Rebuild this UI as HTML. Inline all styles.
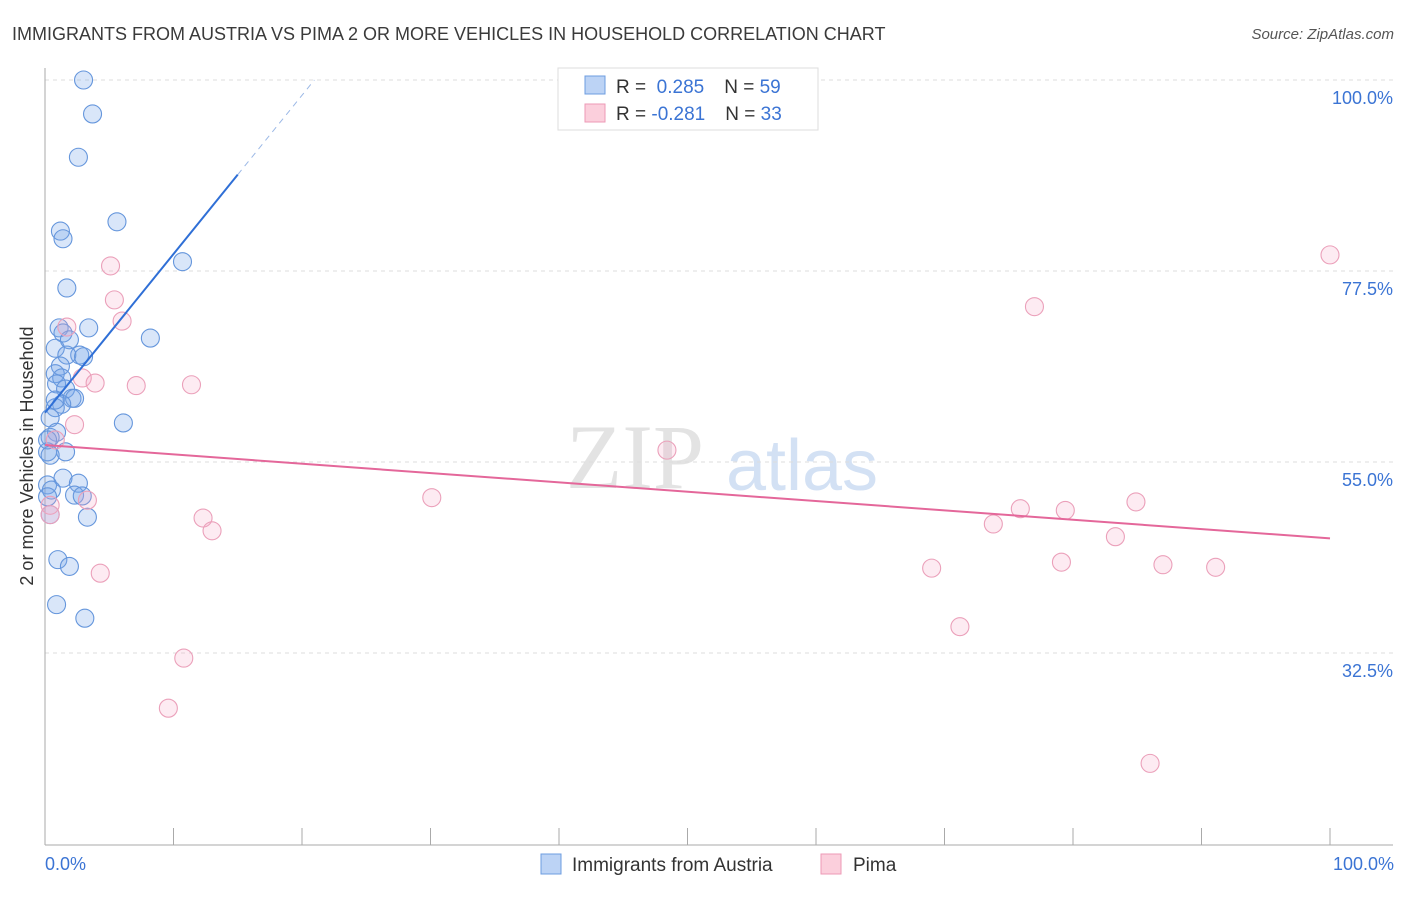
<!DOCTYPE html>
<html><head><meta charset="utf-8"><style>
body{margin:0;background:#fff;font-family:"Liberation Sans",sans-serif}
</style></head><body>
<svg id="chart" width="1406" height="892" xmlns="http://www.w3.org/2000/svg" font-family="Liberation Sans, sans-serif">
<text x="12" y="40" font-size="18" fill="#3a3a3a">IMMIGRANTS FROM AUSTRIA VS PIMA 2 OR MORE VEHICLES IN HOUSEHOLD CORRELATION CHART</text>
<text x="1394" y="39" font-size="15" fill="#555" font-style="italic" text-anchor="end">Source: ZipAtlas.com</text>
<g>
<text x="635" y="488" font-size="92" fill="#ddd" font-family="Liberation Serif, serif" text-anchor="middle" opacity="0.8">ZIP</text>
<text x="802" y="490" font-size="72" fill="#c9daf2" text-anchor="middle" opacity="0.8">atlas</text>
</g>
<g id="grid"></g><g id="axes"></g><g id="marks"></g>
<text transform="translate(33,456) rotate(-90)" font-size="18" fill="#333" text-anchor="middle">2 or more Vehicles in Household</text>
<text x="45" y="870" font-size="18" fill="#3b74d4">0.0%</text>
<text x="1394" y="870" font-size="18" fill="#3b74d4" text-anchor="end">100.0%</text>
<g>
<rect x="558" y="68" width="260" height="62" fill="#fff" stroke="#ddd"/>
<rect x="585" y="76" width="20" height="18" fill="#bcd3f5" stroke="#6d9de0"/>
<rect x="585" y="104" width="20" height="18" fill="#fbcfdc" stroke="#ec9ab6"/>
<text x="616" y="93" font-size="19" fill="#333">R = <tspan fill="#3b74d4">&#160;0.285</tspan><tspan dx="20">N = </tspan><tspan fill="#3b74d4">59</tspan></text>
<text x="616" y="120" font-size="19" fill="#333">R = <tspan fill="#3b74d4">-0.281</tspan><tspan dx="20">N = </tspan><tspan fill="#3b74d4">33</tspan></text>
</g>
<g>
<rect x="541" y="854" width="20" height="20" fill="#bcd3f5" stroke="#6d9de0"/>
<text x="572" y="871" font-size="19" fill="#333">Immigrants from Austria</text>
<rect x="821" y="854" width="20" height="20" fill="#fbcfdc" stroke="#ec9ab6"/>
<text x="853" y="871" font-size="19" fill="#333">Pima</text>
</g>
</svg>
<script>
const yTicks=[100,77.5,55,32.5];
const yTickLabels=["100.0%","77.5%","55.0%","32.5%"];
const xTicks=[0,10,20,30,40,50,60,70,80,90,100];
const blueX=[3.0,3.7,2.6,5.6,1.2,1.4,10.7,1.7,3.4,1.1,1.4,8.2,0.8,2.7,1.7,3.0,1.2,0.8,1.3,0.9,1.6,2.1,2.3,1.3,0.8,6.1,0.4,0.9,0.4,1.6,0.2,0.4,1.4,2.6,0.2,0.5,2.3,2.9,0.2,3.3,0.4,1.0,1.9,0.9,3.1,0.8,1.9,0.2];
const blueY=[100,96.0,90.9,83.3,82.2,81.3,78.6,75.5,70.8,70.8,70.2,69.6,68.4,67.6,67.6,67.4,66.3,65.4,64.9,64.2,63.6,62.5,62.5,61.8,61.4,59.6,60.2,58.5,57.9,56.2,56.2,55.8,53.1,52.5,52.3,51.7,51.1,51.0,50.9,48.5,48.8,43.5,42.7,38.2,36.6,62.3,69.4,57.6];
const pinkX=[100,77.0,5.1,5.4,6.0,1.7,2.9,3.9,7.1,11.4,2.3,48.4,0.8,30.1,3.3,0.4,0.4,12.3,13.0,4.3,10.8,9.6,73.8,75.9,79.4,84.9,83.3,79.1,69.0,87.0,91.1,71.2,86.0];
const pinkY=[79.4,73.3,78.1,74.1,71.6,70.9,64.9,64.3,64.0,64.1,59.4,56.4,57.6,50.8,50.5,49.9,48.8,48.4,46.9,41.9,31.9,26.0,47.7,49.5,49.3,50.3,46.2,43.2,42.5,42.9,42.6,35.6,19.5];
const blueTrend=[60.8,1.87];
const pinkTrend=[57.0,-0.11];
const NS="http://www.w3.org/2000/svg";
const sx=v=>45+v*12.85, sy=v=>80+(100-v)*8.489;
function mk(tag,attrs,parent){const e=document.createElementNS(NS,tag);for(const k in attrs)e.setAttribute(k,attrs[k]);document.getElementById(parent).appendChild(e);return e;}
yTicks.forEach((t,i)=>{
 const l=mk('line',{x1:45,x2:1393,y1:sy(t),y2:sy(t),stroke:'#ddd','stroke-dasharray':'4,4'},'grid');
 
 
 const tx=mk('text',{x:1393,y:sy(t)+24,'font-size':18,fill:'#3b74d4','text-anchor':'end'},'grid');
 tx.textContent=yTickLabels[i];
 
 
});
const ya=mk('line',{x1:45,x2:45,y1:68,y2:845,stroke:'#aaa'},'axes');


const xa=mk('line',{x1:45,x2:1393,y1:845,y2:845,stroke:'#aaa'},'axes');


xTicks.forEach(t=>{const l=mk('line',{x1:sx(t),x2:sx(t),y1:828,y2:845,stroke:'#aaa'},'axes');
 
 });
blueX.forEach((x,i)=>{const c=mk('circle',{cx:sx(x),cy:sy(blueY[i]),r:9,fill:'rgba(120,165,235,0.28)',stroke:'#6596dc','stroke-width':1.1},'marks');
 
 });
pinkX.forEach((x,i)=>{const c=mk('circle',{cx:sx(x),cy:sy(pinkY[i]),r:9,fill:'rgba(245,165,195,0.22)',stroke:'#eba0ba','stroke-width':1.1},'marks');
 
 });
const bx1=15,bx2=(100-blueTrend[0])/blueTrend[1];
const bt=mk('line',{x1:sx(0),y1:sy(blueTrend[0]),x2:sx(bx1),y2:sy(blueTrend[0]+blueTrend[1]*bx1),stroke:'#2f6fd6','stroke-width':2},'marks');


const bd=mk('line',{x1:sx(bx1),y1:sy(blueTrend[0]+blueTrend[1]*bx1),x2:sx(bx2),y2:sy(100),stroke:'#9bb8e6','stroke-width':1,'stroke-dasharray':'6,5'},'marks');


const pt=mk('line',{x1:sx(0),y1:sy(pinkTrend[0]),x2:sx(100),y2:sy(pinkTrend[0]+pinkTrend[1]*100),stroke:'#e4679a','stroke-width':2},'marks');


</script>
</body></html>
